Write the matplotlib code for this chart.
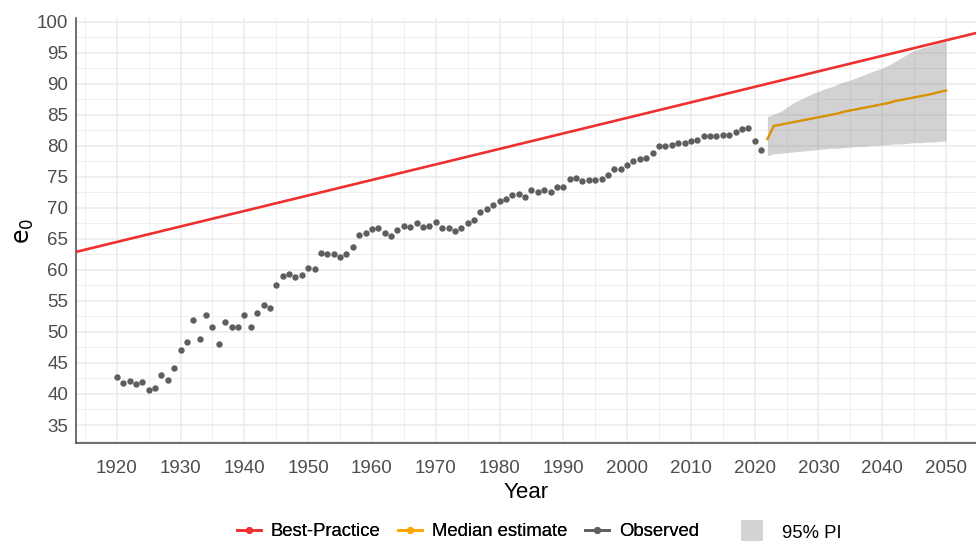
import numpy as np
import matplotlib
matplotlib.use("Agg")
import matplotlib.pyplot as plt
from matplotlib.lines import Line2D
from matplotlib.patches import Patch
from matplotlib.ticker import MultipleLocator

plt.rcParams['font.family'] = ['Liberation Sans', 'DejaVu Sans']

# ---------------- data ----------------
obs_years = list(range(1920, 2022))
obs_e0 = [42.7, 41.7, 42.1, 41.6, 42.0, 40.7, 41.0, 43.1, 42.3, 44.2,
          47.1, 48.4, 51.9, 48.8, 52.7, 50.8, 48.0, 51.6, 50.8, 50.8,
          52.8, 50.8, 53.0, 54.4, 53.9, 57.6, 59.0, 59.4, 58.8, 59.1,
          60.3, 60.1, 62.8, 62.5, 62.5, 62.1, 62.6, 63.7, 65.6, 65.9,
          66.6, 66.8, 66.0, 65.5, 66.4, 67.1, 66.9, 67.6, 66.9, 67.0,
          67.7, 66.7, 66.7, 66.2, 66.8, 67.6, 68.0, 69.3, 69.8, 70.4,
          71.1, 71.4, 72.1, 72.3, 71.8, 72.9, 72.6, 72.9, 72.5, 73.4,
          73.3, 74.6, 74.8, 74.3, 74.5, 74.5, 74.6, 75.3, 76.2, 76.3,
          76.9, 77.5, 77.8, 78.1, 78.9, 79.9, 80.0, 80.1, 80.5, 80.5,
          80.8, 80.9, 81.6, 81.6, 81.6, 81.7, 81.8, 82.2, 82.7, 82.9,
          80.8, 79.3]

fc_years = list(range(2022, 2051))
fc_median = [81.1, 83.2, 83.4, 83.6, 83.8, 84.0, 84.2, 84.4, 84.6, 84.8,
             85.0, 85.2, 85.5, 85.7, 85.9, 86.1, 86.3, 86.5, 86.7, 86.9,
             87.2, 87.4, 87.6, 87.8, 88.0, 88.2, 88.4, 88.7, 88.9]
fc_lower = [78.4, 78.7, 78.8, 78.9, 79.0, 79.1, 79.2, 79.3, 79.4, 79.5,
            79.6, 79.6, 79.7, 79.8, 79.9, 79.9, 80.0, 80.1, 80.1, 80.2,
            80.3, 80.3, 80.4, 80.5, 80.5, 80.6, 80.6, 80.7, 80.8]
fc_upper = [84.7, 85.1, 85.5, 86.2, 86.9, 87.4, 87.9, 88.4, 88.8, 89.2,
            89.5, 89.9, 90.3, 90.6, 91.0, 91.4, 91.8, 92.2, 92.5, 93.0,
            93.6, 94.2, 94.8, 95.4, 95.7, 96.0, 96.3, 96.6, 96.8]

bp_years = [1920, 2050]
bp_e0 = [64.5, 97.0]

x_ticks = list(range(1920, 2051, 10))
y_ticks = list(range(35, 101, 5))

# ---------------- colours ----------------
c_red = '#EE3030'
c_orange_key = '#FFA500'
c_orange_line = '#DA9100'
c_obs = '#5E5E5E'
c_grid = '#EBEBEB'
c_text = '#4D4D4D'

# ---------------- figure ----------------
fig = plt.figure(figsize=(9.76, 5.41), dpi=100)
ax = fig.add_axes([76/976, 1 - 443/541, 1 - 76/976, (443 - 18)/541])

ax.set_xlim(1913.6, 2054.7)
ax.set_ylim(32.1, 100.6)

ax.set_xticks(x_ticks)
ax.set_yticks(y_ticks)
ax.xaxis.set_minor_locator(MultipleLocator(5))
ax.yaxis.set_minor_locator(MultipleLocator(2.5))
ax.grid(which='major', color=c_grid, linewidth=1.1, zorder=0)
ax.grid(which='minor', color=c_grid, linewidth=0.6, zorder=0)
ax.set_axisbelow(True)

for s in ['top', 'right']:
    ax.spines[s].set_visible(False)
for s in ['left', 'bottom']:
    ax.spines[s].set_color('#555555')
    ax.spines[s].set_linewidth(1.2)

ax.tick_params(which='both', length=0, labelsize=13.5, labelcolor=c_text)
ax.tick_params(axis='y', pad=5.5)
ax.tick_params(axis='x', pad=12)

# best-practice line (extends across panel)
ax.axline((bp_years[0], bp_e0[0]), (bp_years[1], bp_e0[1]),
          color=c_red, linewidth=1.9, zorder=3)

# prediction interval
ax.fill_between(fc_years, fc_lower, fc_upper, color='#808080', alpha=0.35,
                linewidth=0, zorder=2)

# median
ax.plot(fc_years, fc_median, color=c_orange_line, linewidth=1.7, zorder=4)

# observed
ax.plot(obs_years, obs_e0, linestyle='none', marker='o', markersize=4.6,
        color=c_obs, markeredgewidth=0, zorder=5)

ax.set_xlabel('Year', fontsize=16, color='black', labelpad=4)
ax.set_ylabel(r'$\mathrm{e}_0$', fontsize=17, color='black')
ax.yaxis.set_label_coords(-0.045, 0.5)

# legends
h1 = [Line2D([0], [0], color=c_red, lw=1.9, marker='o', markersize=4),
      Line2D([0], [0], color=c_orange_key, lw=1.9, marker='o', markersize=4),
      Line2D([0], [0], color=c_obs, lw=1.9, marker='o', markersize=4)]
leg1 = fig.legend(h1, ['Best-Practice', 'Median estimate', 'Observed'],
                  loc='center', bbox_to_anchor=(468/976, 1 - 532/541),
                  ncol=3, frameon=False, fontsize=13.3, handlelength=1.3,
                  handletextpad=0.55, columnspacing=0.95)
fig.add_artist(leg1)
h2 = [Patch(facecolor='#D3D3D3', edgecolor='none')]
fig.legend(h2, ['95% PI'], loc='center', bbox_to_anchor=(791/976, 1 - 532/541),
           frameon=False, fontsize=13.3, handlelength=1.2, handleheight=1.6,
           handletextpad=1.0)

fig.savefig('out.png', dpi=100)
